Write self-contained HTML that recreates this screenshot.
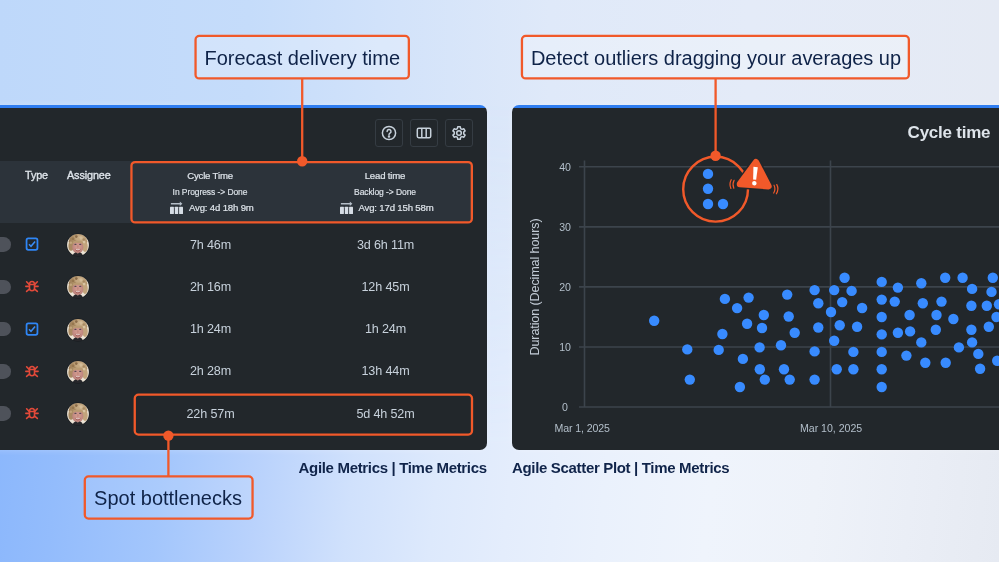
<!DOCTYPE html>
<html lang="en">
<head>
<meta charset="utf-8">
<title>Time Metrics</title>
<style>
html,body{margin:0;padding:0;}
body{width:999px;height:562px;overflow:hidden;position:relative;font-family:"Liberation Sans",sans-serif;
background:linear-gradient(90deg,#bed8fa 0%,#c5dcfa 25%,#d3e3fa 40%,#dfe9f9 55%,#e4ebf8 75%,#e5eaf4 100%);
}
body::before{content:"";position:absolute;left:0;top:0;width:999px;height:562px;
background:linear-gradient(96deg,#86b4fc 0%,#93bcfc 10%,#a3c6fc 20%,#b9d2fc 29%,#d0e1fc 38%,#dde9fc 46%,#e4edfc 53%,#eaf1fc 62%,#eff4fc 72%,#eef2f9 82%,#eaeef6 91%,#e6eaf2 100%);
-webkit-mask-image:linear-gradient(180deg,rgba(0,0,0,0) 18%,#000 80%);mask-image:linear-gradient(180deg,rgba(0,0,0,0) 18%,#000 80%);}
.abs{position:absolute;}
.panel{position:absolute;background:linear-gradient(180deg,#2f7df0 0,#2f7df0 3.200px,#22272b 3.400px);box-sizing:border-box;box-shadow:0 0 6px rgba(255,255,255,0.25);}
#pl{left:-20px;top:105px;width:507.200px;height:345.300px;border-radius:0 7px 7px 0;}
#pr{left:511.800px;top:105px;width:520px;height:345.300px;border-radius:7px 0 0 7px;}
.hdr{position:absolute;left:0;top:161px;width:472px;height:62px;background:#2c333a;border-radius:0 4px 4px 0;}
.obox{position:absolute;box-sizing:border-box;border:2px solid #f1592a;border-radius:5px;}
.oline{position:absolute;background:#f1592a;width:2px;}
.odot{position:absolute;width:10px;height:10px;border-radius:50%;background:#f1592a;}
.call{position:absolute;box-sizing:border-box;border:2px solid transparent;
 color:#0f2348;font-size:20px;line-height:43.5px;text-align:center;white-space:nowrap;}
.cap{position:absolute;color:#10244a;font-weight:bold;font-size:15px;line-height:20px;white-space:nowrap;letter-spacing:-0.33px;}
.btn{position:absolute;top:119px;width:28px;height:28px;box-sizing:border-box;border:1px solid #353c43;border-radius:3px;}
.btn svg{position:absolute;left:5px;top:5px;}
.c{position:absolute;text-align:center;white-space:nowrap;color:#c7d1db;}
.val{font-size:12.6px;line-height:16px;width:120px;letter-spacing:-0.15px;}
.h1{font-size:9.6px;line-height:14px;width:160px;color:#dee4ea;letter-spacing:-0.17px;-webkit-text-stroke:0.2px #dee4ea;}
.h2{font-size:8.5px;line-height:12px;width:160px;color:#dee4ea;letter-spacing:-0.08px;-webkit-text-stroke:0.15px #dee4ea;}
.th{position:absolute;font-size:10.8px;letter-spacing:-0.1px;line-height:14px;color:#dee4ea;top:168px;-webkit-text-stroke:0.35px #dee4ea;}
.pill{position:absolute;left:-10px;width:21.300px;height:14.600px;border-radius:7.300px;background:#4e525a;margin-top:-0.300px;}
.ax{position:absolute;font-size:10.6px;line-height:14px;color:#b3bfca;white-space:nowrap;letter-spacing:-0.12px;}
</style>
</head>
<body>
<div id="root" style="position:absolute;left:0;top:0;width:999px;height:562px;will-change:transform;overflow:hidden">

<svg width="0" height="0" style="position:absolute"><defs>
<filter id="avb" x="-10%" y="-10%" width="120%" height="120%"><feGaussianBlur stdDeviation="0.45"/></filter>
<radialGradient id="avh" cx="0.62" cy="0.3" r="0.75"><stop offset="0" stop-color="#d2ba96"/><stop offset="0.5" stop-color="#b3946c"/><stop offset="1" stop-color="#886a47"/></radialGradient>
<radialGradient id="avf" cx="0.5" cy="0.45" r="0.6"><stop offset="0" stop-color="#d7a196"/><stop offset="1" stop-color="#b87f78"/></radialGradient>
<clipPath id="avc"><circle cx="11" cy="11" r="10.9"/></clipPath>
</defs></svg>
<!-- LEFT PANEL -->
<div class="panel" id="pl"></div>
<div class="hdr"></div>

<div class="btn" style="left:375px"><svg width="16" height="16" viewBox="0 0 16 16" fill="none" stroke="#c7d1db" stroke-width="1.5"><circle cx="8" cy="8" r="6.6"/><path d="M6.1 6.4a1.95 1.95 0 1 1 2.9 1.7c-.6.35-1 .75-1 1.45" stroke-linecap="round"/><circle cx="8" cy="11.4" r="0.55" fill="#c3ccd6" stroke="none"/><circle cx="8" cy="11.4" r="0.5"/></svg></div>
<div class="btn" style="left:410px"><svg width="16" height="16" viewBox="0 0 16 16" fill="none" stroke="#c7d1db" stroke-width="1.5"><rect x="1.3" y="3.3" width="13.4" height="9.4" rx="1.4"/><path d="M5.8 3.3v9.4M10.2 3.3v9.4"/></svg></div>
<div class="btn" style="left:445px"><svg width="16" height="16" viewBox="0 0 16 16" fill="none" stroke="#c7d1db" stroke-width="1.5" stroke-linejoin="round"><path d="M6.77 1.67L9.23 1.67L9.62 3.54L11.05 4.36L12.87 3.77L14.10 5.90L12.68 7.18L12.68 8.82L14.10 10.10L12.87 12.23L11.05 11.64L9.62 12.46L9.23 14.33L6.77 14.33L6.38 12.46L4.95 11.64L3.13 12.23L1.90 10.10L3.32 8.82L3.32 7.18L1.90 5.90L3.13 3.77L4.95 4.36L6.38 3.54Z"/><circle cx="8" cy="8" r="2.300"/></svg></div>

<div class="th" style="left:25px">Type</div>
<div class="th" style="left:67px">Assignee</div>

<div class="c h1" style="left:130px;top:169px">Cycle Time</div>
<div class="c h2" style="left:130px;top:186px">In Progress -&gt; Done</div>
<div class="c h1" style="left:305px;top:169px">Lead time</div>
<div class="c h2" style="left:305px;top:186px">Backlog -&gt; Done</div>

<svg class="abs" style="left:169px;top:202px" width="15" height="13" viewBox="0 0 15 13" fill="#d5dce4" overflow="visible"><path d="M1.900 1.050h8.900V-0.400l2.600 2.200-2.600 2.200V2.550H1.900z" fill="#b4bec8"/><rect x="1" y="4.700" width="3.900" height="7.300" rx="0.600"/><rect x="5.800" y="4.700" width="3.400" height="7.300" rx="0.600"/><rect x="10.100" y="4.700" width="3.900" height="7.300" rx="0.600"/></svg>
<div class="abs h1" style="left:189px;top:201px;white-space:nowrap;width:auto">Avg: 4d 18h 9m</div>
<svg class="abs" style="left:339px;top:202px" width="15" height="13" viewBox="0 0 15 13" fill="#d5dce4" overflow="visible"><path d="M1.900 1.050h8.900V-0.400l2.600 2.200-2.600 2.200V2.550H1.900z" fill="#b4bec8"/><rect x="1" y="4.700" width="3.900" height="7.300" rx="0.600"/><rect x="5.800" y="4.700" width="3.400" height="7.300" rx="0.600"/><rect x="10.100" y="4.700" width="3.900" height="7.300" rx="0.600"/></svg>
<div class="abs h1" style="left:358.500px;top:201px;white-space:nowrap;width:auto">Avg: 17d 15h 58m</div>

<div class="pill" style="top:237.5px"></div>
<svg class="abs" style="left:25px;top:237.0px" width="14" height="14" viewBox="0 0 14 14" fill="none"><rect x="1.550" y="1.450" width="10.900" height="11.300" rx="1.700" stroke="#2f86f6" stroke-width="1.750"/><path d="M4 7.300l2 2 4.100-4.700" stroke="#3a8ef8" stroke-width="1.500" fill="none"/></svg>
<svg class="abs" style="left:67.100px;top:234.0px;overflow:visible" width="22" height="22" viewBox="0 0 22 22"><g>
<circle cx="11" cy="11" r="11.700" fill="#1b1f23"/>
<g clip-path="url(#avc)"><g filter="url(#avb)">
<rect x="-1" y="-1" width="24" height="24" fill="#ece4d6"/>
<ellipse cx="11" cy="7.400" rx="9.300" ry="7.600" fill="url(#avh)"/>
<ellipse cx="4.100" cy="12" rx="2.700" ry="4.800" fill="#a98a62"/>
<ellipse cx="18" cy="12.600" rx="2.700" ry="5.300" fill="#c2a47c"/>
<circle cx="6" cy="4.800" r="1.500" fill="#96774f"/><circle cx="9.300" cy="2.600" r="1.300" fill="#8a6b48"/><circle cx="14" cy="3.800" r="1.600" fill="#d4bc98"/><circle cx="17" cy="8" r="1.400" fill="#d8c3a1"/><circle cx="3.800" cy="8.800" r="1.300" fill="#c2a67e"/><circle cx="11.300" cy="5.200" r="1.400" fill="#c4a880"/><circle cx="16.800" cy="5.500" r="1.200" fill="#a88a62"/><circle cx="7.800" cy="6.800" r="1.100" fill="#a5865e"/>
<ellipse cx="10.800" cy="13.300" rx="5.500" ry="6.300" fill="url(#avf)"/>
<path d="M5.400 10.200q.5-4.300 5.500-3.500q5-.8 5.500 3.500q-2.400-2.300-5.500-1.200q-3.100-1.100-5.500 1.200z" fill="#b99b72"/>
<ellipse cx="8.450" cy="10.300" rx="1.200" ry="0.650" fill="#4f4450"/>
<ellipse cx="13.200" cy="10.300" rx="1.200" ry="0.650" fill="#4f4450"/>
<ellipse cx="10.800" cy="12.600" rx="1" ry="1.500" fill="#c58a80"/>
<path d="M7.900 14.700q2.900 1.200 5.900 0q-.7 2.700-2.950 2.700q-2.250 0-2.950-2.700z" fill="#a55e5b"/>
<path d="M8.500 14.950q2.350.85 4.700 0q-.75 1.400-2.350 1.400q-1.600 0-2.350-1.400z" fill="#f6eeea"/>
<path d="M5.600 23q.2-3.900 3.300-4.400l1.900 1 1.900-1q3.100.5 3.300 4.400z" fill="#26272b"/>
</g></g>
</g></svg>
<div class="c val" style="left:150.5px;top:236.5px">7h 46m</div>
<div class="c val" style="left:325.5px;top:236.5px">3d 6h 11m</div>
<div class="pill" style="top:279.8px"></div>
<svg class="abs" style="left:25px;top:279.3px" width="14" height="14" viewBox="0 0 14 14" fill="none" stroke="#e34a3a" stroke-width="1.550" stroke-linecap="round" stroke-linejoin="round"><path d="M4.500 5.400h5v3.900a2.500 2.500 0 0 1-5 0z"/><path d="M4.500 5.400a2.500 2.900 0 0 1 5 0"/><path d="M4.200 5.400L1.600 2.700M9.750 5.400l2.600-2.700M4.200 7.350H0.800M9.750 7.350h3.400M4.300 10.100l-2.700 2.300M9.650 10.100l2.700 2.300"/></svg>
<svg class="abs" style="left:67.100px;top:276.3px;overflow:visible" width="22" height="22" viewBox="0 0 22 22"><g>
<circle cx="11" cy="11" r="11.700" fill="#1b1f23"/>
<g clip-path="url(#avc)"><g filter="url(#avb)">
<rect x="-1" y="-1" width="24" height="24" fill="#ece4d6"/>
<ellipse cx="11" cy="7.400" rx="9.300" ry="7.600" fill="url(#avh)"/>
<ellipse cx="4.100" cy="12" rx="2.700" ry="4.800" fill="#a98a62"/>
<ellipse cx="18" cy="12.600" rx="2.700" ry="5.300" fill="#c2a47c"/>
<circle cx="6" cy="4.800" r="1.500" fill="#96774f"/><circle cx="9.300" cy="2.600" r="1.300" fill="#8a6b48"/><circle cx="14" cy="3.800" r="1.600" fill="#d4bc98"/><circle cx="17" cy="8" r="1.400" fill="#d8c3a1"/><circle cx="3.800" cy="8.800" r="1.300" fill="#c2a67e"/><circle cx="11.300" cy="5.200" r="1.400" fill="#c4a880"/><circle cx="16.800" cy="5.500" r="1.200" fill="#a88a62"/><circle cx="7.800" cy="6.800" r="1.100" fill="#a5865e"/>
<ellipse cx="10.800" cy="13.300" rx="5.500" ry="6.300" fill="url(#avf)"/>
<path d="M5.400 10.200q.5-4.300 5.500-3.500q5-.8 5.500 3.500q-2.400-2.300-5.500-1.200q-3.100-1.100-5.500 1.200z" fill="#b99b72"/>
<ellipse cx="8.450" cy="10.300" rx="1.200" ry="0.650" fill="#4f4450"/>
<ellipse cx="13.200" cy="10.300" rx="1.200" ry="0.650" fill="#4f4450"/>
<ellipse cx="10.800" cy="12.600" rx="1" ry="1.500" fill="#c58a80"/>
<path d="M7.900 14.700q2.900 1.200 5.900 0q-.7 2.700-2.950 2.700q-2.250 0-2.950-2.700z" fill="#a55e5b"/>
<path d="M8.500 14.950q2.350.85 4.700 0q-.75 1.400-2.350 1.400q-1.600 0-2.350-1.400z" fill="#f6eeea"/>
<path d="M5.600 23q.2-3.900 3.300-4.400l1.900 1 1.900-1q3.100.5 3.300 4.400z" fill="#26272b"/>
</g></g>
</g></svg>
<div class="c val" style="left:150.5px;top:278.8px">2h 16m</div>
<div class="c val" style="left:325.5px;top:278.8px">12h 45m</div>
<div class="pill" style="top:322.1px"></div>
<svg class="abs" style="left:25px;top:321.6px" width="14" height="14" viewBox="0 0 14 14" fill="none"><rect x="1.550" y="1.450" width="10.900" height="11.300" rx="1.700" stroke="#2f86f6" stroke-width="1.750"/><path d="M4 7.300l2 2 4.100-4.700" stroke="#3a8ef8" stroke-width="1.500" fill="none"/></svg>
<svg class="abs" style="left:67.100px;top:318.6px;overflow:visible" width="22" height="22" viewBox="0 0 22 22"><g>
<circle cx="11" cy="11" r="11.700" fill="#1b1f23"/>
<g clip-path="url(#avc)"><g filter="url(#avb)">
<rect x="-1" y="-1" width="24" height="24" fill="#ece4d6"/>
<ellipse cx="11" cy="7.400" rx="9.300" ry="7.600" fill="url(#avh)"/>
<ellipse cx="4.100" cy="12" rx="2.700" ry="4.800" fill="#a98a62"/>
<ellipse cx="18" cy="12.600" rx="2.700" ry="5.300" fill="#c2a47c"/>
<circle cx="6" cy="4.800" r="1.500" fill="#96774f"/><circle cx="9.300" cy="2.600" r="1.300" fill="#8a6b48"/><circle cx="14" cy="3.800" r="1.600" fill="#d4bc98"/><circle cx="17" cy="8" r="1.400" fill="#d8c3a1"/><circle cx="3.800" cy="8.800" r="1.300" fill="#c2a67e"/><circle cx="11.300" cy="5.200" r="1.400" fill="#c4a880"/><circle cx="16.800" cy="5.500" r="1.200" fill="#a88a62"/><circle cx="7.800" cy="6.800" r="1.100" fill="#a5865e"/>
<ellipse cx="10.800" cy="13.300" rx="5.500" ry="6.300" fill="url(#avf)"/>
<path d="M5.400 10.200q.5-4.300 5.500-3.500q5-.8 5.500 3.500q-2.400-2.300-5.500-1.200q-3.100-1.100-5.500 1.200z" fill="#b99b72"/>
<ellipse cx="8.450" cy="10.300" rx="1.200" ry="0.650" fill="#4f4450"/>
<ellipse cx="13.200" cy="10.300" rx="1.200" ry="0.650" fill="#4f4450"/>
<ellipse cx="10.800" cy="12.600" rx="1" ry="1.500" fill="#c58a80"/>
<path d="M7.900 14.700q2.900 1.200 5.900 0q-.7 2.700-2.950 2.700q-2.250 0-2.950-2.700z" fill="#a55e5b"/>
<path d="M8.500 14.950q2.350.85 4.700 0q-.75 1.400-2.350 1.400q-1.600 0-2.350-1.400z" fill="#f6eeea"/>
<path d="M5.600 23q.2-3.900 3.300-4.400l1.900 1 1.900-1q3.100.5 3.300 4.400z" fill="#26272b"/>
</g></g>
</g></svg>
<div class="c val" style="left:150.5px;top:321.1px">1h 24m</div>
<div class="c val" style="left:325.5px;top:321.1px">1h 24m</div>
<div class="pill" style="top:364.4px"></div>
<svg class="abs" style="left:25px;top:363.9px" width="14" height="14" viewBox="0 0 14 14" fill="none" stroke="#e34a3a" stroke-width="1.550" stroke-linecap="round" stroke-linejoin="round"><path d="M4.500 5.400h5v3.900a2.500 2.500 0 0 1-5 0z"/><path d="M4.500 5.400a2.500 2.900 0 0 1 5 0"/><path d="M4.200 5.400L1.600 2.700M9.750 5.400l2.600-2.700M4.200 7.350H0.800M9.750 7.350h3.400M4.300 10.100l-2.700 2.300M9.650 10.100l2.700 2.300"/></svg>
<svg class="abs" style="left:67.100px;top:360.9px;overflow:visible" width="22" height="22" viewBox="0 0 22 22"><g>
<circle cx="11" cy="11" r="11.700" fill="#1b1f23"/>
<g clip-path="url(#avc)"><g filter="url(#avb)">
<rect x="-1" y="-1" width="24" height="24" fill="#ece4d6"/>
<ellipse cx="11" cy="7.400" rx="9.300" ry="7.600" fill="url(#avh)"/>
<ellipse cx="4.100" cy="12" rx="2.700" ry="4.800" fill="#a98a62"/>
<ellipse cx="18" cy="12.600" rx="2.700" ry="5.300" fill="#c2a47c"/>
<circle cx="6" cy="4.800" r="1.500" fill="#96774f"/><circle cx="9.300" cy="2.600" r="1.300" fill="#8a6b48"/><circle cx="14" cy="3.800" r="1.600" fill="#d4bc98"/><circle cx="17" cy="8" r="1.400" fill="#d8c3a1"/><circle cx="3.800" cy="8.800" r="1.300" fill="#c2a67e"/><circle cx="11.300" cy="5.200" r="1.400" fill="#c4a880"/><circle cx="16.800" cy="5.500" r="1.200" fill="#a88a62"/><circle cx="7.800" cy="6.800" r="1.100" fill="#a5865e"/>
<ellipse cx="10.800" cy="13.300" rx="5.500" ry="6.300" fill="url(#avf)"/>
<path d="M5.400 10.200q.5-4.300 5.500-3.500q5-.8 5.500 3.500q-2.400-2.300-5.500-1.200q-3.100-1.100-5.500 1.200z" fill="#b99b72"/>
<ellipse cx="8.450" cy="10.300" rx="1.200" ry="0.650" fill="#4f4450"/>
<ellipse cx="13.200" cy="10.300" rx="1.200" ry="0.650" fill="#4f4450"/>
<ellipse cx="10.800" cy="12.600" rx="1" ry="1.500" fill="#c58a80"/>
<path d="M7.900 14.700q2.900 1.200 5.900 0q-.7 2.700-2.950 2.700q-2.250 0-2.950-2.700z" fill="#a55e5b"/>
<path d="M8.500 14.950q2.350.85 4.700 0q-.75 1.400-2.350 1.400q-1.600 0-2.350-1.400z" fill="#f6eeea"/>
<path d="M5.600 23q.2-3.900 3.300-4.400l1.900 1 1.900-1q3.100.5 3.300 4.400z" fill="#26272b"/>
</g></g>
</g></svg>
<div class="c val" style="left:150.5px;top:363.4px">2h 28m</div>
<div class="c val" style="left:325.5px;top:363.4px">13h 44m</div>
<div class="pill" style="top:406.7px"></div>
<svg class="abs" style="left:25px;top:406.2px" width="14" height="14" viewBox="0 0 14 14" fill="none" stroke="#e34a3a" stroke-width="1.550" stroke-linecap="round" stroke-linejoin="round"><path d="M4.500 5.400h5v3.900a2.500 2.500 0 0 1-5 0z"/><path d="M4.500 5.400a2.500 2.900 0 0 1 5 0"/><path d="M4.200 5.400L1.600 2.700M9.750 5.400l2.600-2.700M4.200 7.350H0.800M9.750 7.350h3.400M4.300 10.100l-2.700 2.300M9.650 10.100l2.700 2.300"/></svg>
<svg class="abs" style="left:67.100px;top:403.2px;overflow:visible" width="22" height="22" viewBox="0 0 22 22"><g>
<circle cx="11" cy="11" r="11.700" fill="#1b1f23"/>
<g clip-path="url(#avc)"><g filter="url(#avb)">
<rect x="-1" y="-1" width="24" height="24" fill="#ece4d6"/>
<ellipse cx="11" cy="7.400" rx="9.300" ry="7.600" fill="url(#avh)"/>
<ellipse cx="4.100" cy="12" rx="2.700" ry="4.800" fill="#a98a62"/>
<ellipse cx="18" cy="12.600" rx="2.700" ry="5.300" fill="#c2a47c"/>
<circle cx="6" cy="4.800" r="1.500" fill="#96774f"/><circle cx="9.300" cy="2.600" r="1.300" fill="#8a6b48"/><circle cx="14" cy="3.800" r="1.600" fill="#d4bc98"/><circle cx="17" cy="8" r="1.400" fill="#d8c3a1"/><circle cx="3.800" cy="8.800" r="1.300" fill="#c2a67e"/><circle cx="11.300" cy="5.200" r="1.400" fill="#c4a880"/><circle cx="16.800" cy="5.500" r="1.200" fill="#a88a62"/><circle cx="7.800" cy="6.800" r="1.100" fill="#a5865e"/>
<ellipse cx="10.800" cy="13.300" rx="5.500" ry="6.300" fill="url(#avf)"/>
<path d="M5.400 10.200q.5-4.300 5.500-3.500q5-.8 5.500 3.500q-2.400-2.300-5.500-1.200q-3.100-1.100-5.500 1.200z" fill="#b99b72"/>
<ellipse cx="8.450" cy="10.300" rx="1.200" ry="0.650" fill="#4f4450"/>
<ellipse cx="13.200" cy="10.300" rx="1.200" ry="0.650" fill="#4f4450"/>
<ellipse cx="10.800" cy="12.600" rx="1" ry="1.500" fill="#c58a80"/>
<path d="M7.900 14.700q2.900 1.200 5.900 0q-.7 2.700-2.950 2.700q-2.250 0-2.950-2.700z" fill="#a55e5b"/>
<path d="M8.500 14.950q2.350.85 4.700 0q-.75 1.400-2.350 1.400q-1.600 0-2.350-1.400z" fill="#f6eeea"/>
<path d="M5.600 23q.2-3.900 3.300-4.400l1.900 1 1.900-1q3.100.5 3.300 4.400z" fill="#26272b"/>
</g></g>
</g></svg>
<div class="c val" style="left:150.5px;top:405.7px">22h 57m</div>
<div class="c val" style="left:325.5px;top:405.7px">5d 4h 52m</div>

<!-- orange highlight boxes (left) -->

<!-- captions -->
<div class="cap" id="capl" style="right:512.300px;top:458px">Agile Metrics | Time Metrics</div>
<div class="cap" id="capr" style="left:512px;top:458px">Agile Scatter Plot | Time Metrics</div>

<!-- RIGHT PANEL -->
<div class="panel" id="pr"></div>

<svg class="abs" style="left:0;top:0" width="999" height="562" viewBox="0 0 999 562">
<g stroke="#3c444c" stroke-width="1.600" fill="none"><path d="M579 166.80H999"/><path d="M579 226.85H999"/><path d="M579 286.90H999"/><path d="M579 346.95H999"/><path d="M579 407.00H999"/><path d="M584.5 160.500V407M830.500 160.500V407"/></g>
<g fill="#388bff"><circle cx="654.2" cy="320.8" r="5.200"/><circle cx="687.3" cy="349.4" r="5.200"/><circle cx="689.8" cy="379.6" r="5.200"/><circle cx="724.9" cy="298.9" r="5.200"/><circle cx="722.4" cy="334.0" r="5.200"/><circle cx="718.7" cy="349.9" r="5.200"/><circle cx="737.1" cy="308.1" r="5.200"/><circle cx="748.6" cy="297.6" r="5.200"/><circle cx="747.1" cy="323.8" r="5.200"/><circle cx="742.9" cy="358.9" r="5.200"/><circle cx="739.9" cy="387.0" r="5.200"/><circle cx="763.8" cy="315.0" r="5.200"/><circle cx="762.0" cy="328.0" r="5.200"/><circle cx="759.6" cy="347.4" r="5.200"/><circle cx="759.8" cy="369.3" r="5.200"/><circle cx="764.8" cy="379.6" r="5.200"/><circle cx="787.2" cy="294.6" r="5.200"/><circle cx="788.7" cy="316.5" r="5.200"/><circle cx="794.7" cy="332.7" r="5.200"/><circle cx="781.0" cy="345.2" r="5.200"/><circle cx="784.0" cy="369.3" r="5.200"/><circle cx="789.7" cy="379.6" r="5.200"/><circle cx="814.6" cy="290.1" r="5.200"/><circle cx="818.3" cy="303.3" r="5.200"/><circle cx="818.3" cy="327.5" r="5.200"/><circle cx="814.6" cy="351.4" r="5.200"/><circle cx="814.6" cy="379.6" r="5.200"/><circle cx="844.6" cy="277.7" r="5.200"/><circle cx="834.2" cy="290.1" r="5.200"/><circle cx="851.6" cy="290.9" r="5.200"/><circle cx="842.2" cy="302.1" r="5.200"/><circle cx="831.0" cy="312.0" r="5.200"/><circle cx="862.1" cy="308.0" r="5.200"/><circle cx="839.7" cy="325.2" r="5.200"/><circle cx="857.1" cy="326.7" r="5.200"/><circle cx="834.2" cy="340.7" r="5.200"/><circle cx="853.4" cy="351.9" r="5.200"/><circle cx="836.7" cy="369.3" r="5.200"/><circle cx="853.4" cy="369.3" r="5.200"/><circle cx="881.7" cy="281.9" r="5.200"/><circle cx="881.7" cy="299.6" r="5.200"/><circle cx="881.7" cy="317.0" r="5.200"/><circle cx="881.7" cy="334.4" r="5.200"/><circle cx="881.7" cy="351.9" r="5.200"/><circle cx="881.7" cy="369.3" r="5.200"/><circle cx="881.7" cy="387.0" r="5.200"/><circle cx="897.9" cy="287.6" r="5.200"/><circle cx="894.7" cy="301.6" r="5.200"/><circle cx="897.9" cy="332.7" r="5.200"/><circle cx="909.6" cy="315.0" r="5.200"/><circle cx="910.1" cy="331.4" r="5.200"/><circle cx="906.4" cy="355.6" r="5.200"/><circle cx="921.3" cy="283.2" r="5.200"/><circle cx="922.8" cy="303.3" r="5.200"/><circle cx="921.3" cy="342.4" r="5.200"/><circle cx="925.3" cy="362.8" r="5.200"/><circle cx="941.5" cy="301.6" r="5.200"/><circle cx="936.5" cy="315.0" r="5.200"/><circle cx="935.8" cy="329.7" r="5.200"/><circle cx="945.2" cy="277.7" r="5.200"/><circle cx="945.7" cy="362.8" r="5.200"/><circle cx="953.4" cy="319.0" r="5.200"/><circle cx="962.6" cy="277.7" r="5.200"/><circle cx="958.9" cy="347.4" r="5.200"/><circle cx="972.1" cy="288.9" r="5.200"/><circle cx="971.4" cy="305.8" r="5.200"/><circle cx="971.4" cy="329.7" r="5.200"/><circle cx="972.1" cy="342.4" r="5.200"/><circle cx="978.3" cy="353.9" r="5.200"/><circle cx="980.1" cy="368.8" r="5.200"/><circle cx="992.8" cy="277.7" r="5.200"/><circle cx="991.5" cy="291.9" r="5.200"/><circle cx="986.8" cy="305.8" r="5.200"/><circle cx="988.8" cy="326.7" r="5.200"/><circle cx="999.0" cy="304.3" r="5.200"/><circle cx="996.5" cy="317.0" r="5.200"/><circle cx="997.2" cy="360.8" r="5.200"/><circle cx="708.0" cy="173.9" r="5.200"/><circle cx="708.0" cy="188.8" r="5.200"/><circle cx="708.0" cy="204.0" r="5.200"/><circle cx="723.0" cy="204.0" r="5.200"/></g>
<circle cx="715.600" cy="189.200" r="32.400" fill="none" stroke="#f1592a" stroke-width="2.400"/>
<circle cx="715.600" cy="155.700" r="5.200" fill="#f1592a"/>
<g fill="none" stroke="#f1592a" stroke-width="1.200" stroke-linecap="round">
<path d="M731.200 179.700q-2.300 4.400 -0.300 8.800M734.100 180.300q-2.100 3.900 -0.300 7.900"/>
<path d="M774 185.200q2 3.900 -0.300 7.800M776.800 184.600q2.400 4.500 -0.400 9.200"/>
</g>
<g transform="translate(754.700 178.800) rotate(4.500)">
<path d="M0 -16.600L14.300 6.300H-14.300Z" fill="#22272b" stroke="#22272b" stroke-width="9.400" stroke-linejoin="round"/>
<path d="M0 -16.600L14.300 6.300H-14.300Z" fill="#f1592a" stroke="#f1592a" stroke-width="6.400" stroke-linejoin="round"/>
<path d="M-2.200 -11.800h4.400l-.7 12.600h-3z" fill="#fff"/><circle cx="0" cy="4.500" r="2.250" fill="#fff"/>
</g>
</svg>
<div class="ax" style="left:545px;width:40px;text-align:center;top:159.8px">40</div><div class="ax" style="left:545px;width:40px;text-align:center;top:219.8px">30</div><div class="ax" style="left:545px;width:40px;text-align:center;top:279.9px">20</div><div class="ax" style="left:545px;width:40px;text-align:center;top:339.9px">10</div><div class="ax" style="left:545px;width:40px;text-align:center;top:400.0px">0</div>
<div class="ax" id="m1" style="left:554.600px;top:421px">Mar 1, 2025</div>
<div class="ax" id="m10" style="left:800px;top:421px;letter-spacing:-0.02px">Mar 10, 2025</div>
<div class="ax" id="ytitle" style="left:535px;top:287px;font-size:12.6px;letter-spacing:-0.12px;transform:translate(-50%,-50%) rotate(-90deg);color:#c3ccd6">Duration (Decimal hours)</div>
<div class="abs" id="ctitle" style="left:907.600px;top:123.400px;font-size:17px;line-height:20px;font-weight:bold;color:#dee4ea;white-space:nowrap;letter-spacing:-0.24px">Cycle time</div>


<!-- callouts -->
<svg class="abs" style="left:0;top:0;pointer-events:none" width="999" height="562" viewBox="0 0 999 562">
<g stroke="#f1592a" stroke-width="2.300" fill="none">
<rect x="131.45" y="162.05" width="340.40" height="60.40" rx="3.800" fill="none"/><rect x="134.75" y="394.65" width="337.25" height="39.95" rx="3.800" fill="none"/>
<path d="M302.200 79V161M168.400 435V476M715.600 79V156"/>
<rect x="195.55" y="35.95" width="213.30" height="42.50" rx="3.800" fill="rgba(255,255,255,0.24)"/><rect x="521.95" y="35.95" width="386.90" height="42.50" rx="3.800" fill="rgba(255,255,255,0.24)"/><rect x="84.80" y="476.45" width="167.75" height="42.10" rx="3.800" fill="rgba(255,255,255,0.09)"/>
</g>
<g fill="#f1592a"><circle cx="302.200" cy="161.200" r="5.200"/><circle cx="168.400" cy="435.600" r="5.200"/></g>
</svg>

<div class="call" id="c1" style="left:194.500px;top:35px;width:215.500px;height:44px">Forecast delivery time</div>

<div class="call" id="c2" style="left:83.500px;top:476px;width:169px;height:43px;line-height:41.5px">Spot bottlenecks</div>

<div class="call" id="c3" style="letter-spacing:-0.03px;left:521.500px;top:35px;width:389px;height:44px">Detect outliers dragging your averages up</div>

</div>
</body>
</html>
